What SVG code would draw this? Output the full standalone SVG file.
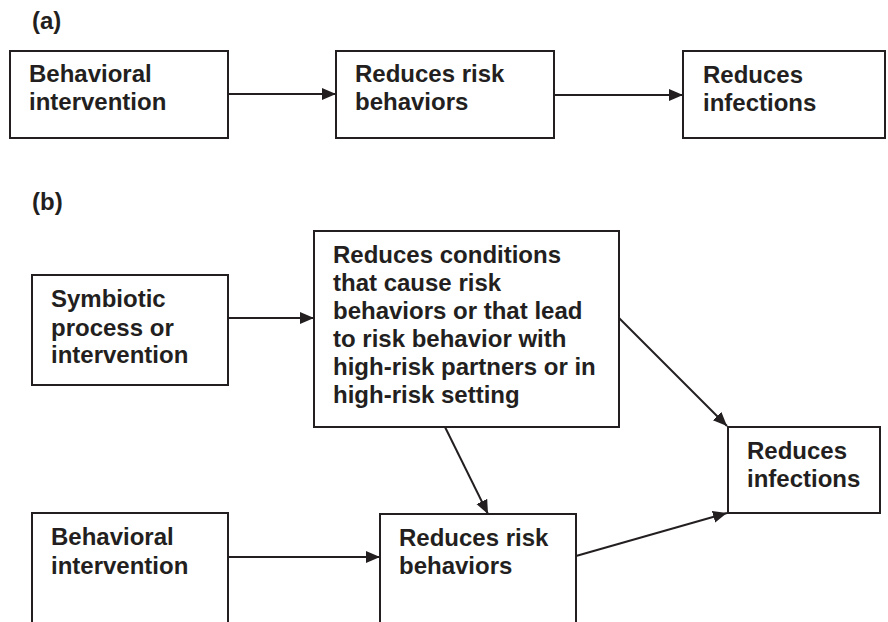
<svg xmlns="http://www.w3.org/2000/svg" width="888" height="622" viewBox="0 0 888 622">
<style>
.box{fill:#fff;stroke:#231f20;stroke-width:2}
.t{font-family:"Liberation Sans",Arial,sans-serif;font-weight:bold;font-size:24px;fill:#231f20}
.c{stroke:#231f20;stroke-width:2;fill:none;marker-end:url(#ah)}
</style>
<defs>
<marker id="ah" markerUnits="userSpaceOnUse" markerWidth="16" markerHeight="14" refX="14" refY="6" orient="auto">
<path d="M0,0 L14,6 L0,12 z" fill="#231f20"/>
</marker>
</defs>
<text class="t" x="32" y="29">(a)</text>
<text class="t" x="32" y="210">(b)</text>
<g id="connectors">
<line class="c" x1="228" y1="94" x2="336" y2="94"/>
<line class="c" x1="554" y1="95" x2="683" y2="95"/>
<line class="c" x1="228" y1="318" x2="314" y2="318"/>
<line class="c" x1="619" y1="318" x2="727" y2="426"/>
<line class="c" x1="445" y1="427" x2="488" y2="514"/>
<line class="c" x1="228" y1="557" x2="380" y2="557"/>
<line class="c" x1="576" y1="556" x2="727" y2="513"/>
</g>
<g id="a-behavioral">
<rect class="box" x="10" y="51" width="218" height="87"/>
<text class="t" x="29" y="82">Behavioral</text>
<text class="t" x="29" y="110">intervention</text>
</g>
<g id="a-risk">
<rect class="box" x="336" y="51" width="218" height="87"/>
<text class="t" x="355" y="82">Reduces risk</text>
<text class="t" x="355" y="110">behaviors</text>
</g>
<g id="a-infections">
<rect class="box" x="683" y="51" width="202" height="87"/>
<text class="t" x="703" y="83">Reduces</text>
<text class="t" x="703" y="111">infections</text>
</g>
<g id="b-symbiotic">
<rect class="box" x="32" y="275" width="196" height="110"/>
<text class="t" x="51" y="307">Symbiotic</text>
<text class="t" x="51" y="336">process or</text>
<text class="t" x="51" y="363">intervention</text>
</g>
<g id="b-conditions">
<rect class="box" x="314" y="231" width="305" height="196"/>
<text class="t" x="333" y="263">Reduces conditions</text>
<text class="t" x="333" y="291">that cause risk</text>
<text class="t" x="333" y="319">behaviors or that lead</text>
<text class="t" x="333" y="347">to risk behavior with</text>
<text class="t" x="333" y="375">high-risk partners or in</text>
<text class="t" x="333" y="403">high-risk setting</text>
</g>
<g id="b-infections">
<rect class="box" x="728" y="427" width="152" height="86"/>
<text class="t" x="747" y="459">Reduces</text>
<text class="t" x="747" y="487">infections</text>
</g>
<g id="b-behavioral">
<rect class="box" x="32" y="513" width="196" height="120"/>
<text class="t" x="51" y="545">Behavioral</text>
<text class="t" x="51" y="574">intervention</text>
</g>
<g id="b-risk">
<rect class="box" x="380" y="514" width="196" height="120"/>
<text class="t" x="399" y="546">Reduces risk</text>
<text class="t" x="399" y="574">behaviors</text>
</g>
</svg>
